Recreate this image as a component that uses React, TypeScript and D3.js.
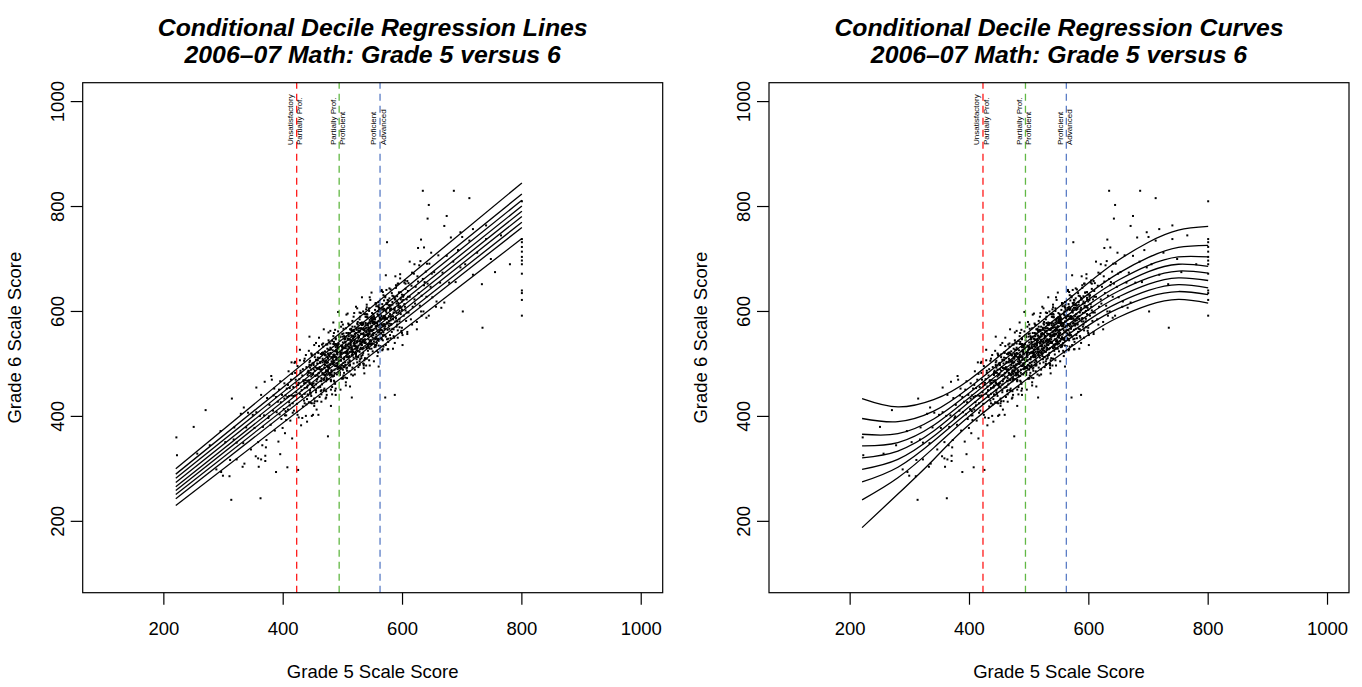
import React from 'react';
import * as d3 from 'd3';

const panelTitles: string[][] = [
  ['Conditional Decile Regression Lines', '2006–07 Math: Grade 5 versus 6'],
  ['Conditional Decile Regression Curves', '2006–07 Math: Grade 5 versus 6'],
];
const xAxisTitle = 'Grade 5 Scale Score';
const yAxisTitle = 'Grade 6 Scale Score';
const xTicks = [200, 400, 600, 800, 1000];
const yTicks = [200, 400, 600, 800, 1000];
const cutScores = [422.6, 493.8, 562.3];
const cutColors = ['#FF1A1A', '#62B845', '#5B7DC6'];
const cutLabels: string[][] = [
  ['Unsatisfactory', 'Partially Prof.'],
  ['Partially Prof.', 'Proficient'],
  ['Proficient', 'Advanced'],
];

// Linear decile regression lines: y at grade-5 score 220 and 800
const lineX = [220, 800];
const lineYStart = [230, 243, 251, 259, 266, 274, 282, 290, 300];
const lineYEnd = [739, 760, 770, 781, 791, 801, 812, 824, 845];

// B-spline decile regression curves read at these grade-5 scores
const curveX = [220, 280, 340, 400, 500, 600, 650, 700, 750, 800];
const curveY: number[][] = [
  [188, 252, 318, 385, 474, 556, 589, 612, 623, 616],
  [241, 283, 340, 401, 491, 574, 606, 628, 638, 632],
  [275, 303, 353, 410, 500, 584, 617, 640, 651, 645],
  [299, 318, 362, 419, 509, 594, 628, 652, 664, 659],
  [321, 334, 372, 428, 518, 604, 639, 664, 677, 673],
  [344, 350, 383, 436, 527, 613, 649, 676, 690, 686],
  [366, 367, 395, 445, 536, 623, 660, 688, 704, 704],
  [396, 390, 410, 455, 546, 634, 673, 703, 722, 726],
  [434, 418, 432, 470, 562, 655, 698, 732, 755, 762],
];

// Student (grade 5, grade 6) scale scores
const scores: [number, number][] = [
  [303,351],[311,317],[318,379],[322,350],[329,405],[333,349],[338,379],[341,407],[346,337],[349,403],
  [352,378],[355,408],[358,351],[361,401],[363,441],[366,380],[368,402],[371,341],[373,435],[375,397],[377,422],[379,384],[381,470],[383,411],[385,453],[386,373],[388,437],[389,408],[391,428],[392,352],[393,451],[394,404],[395,467],[396,427],[397,395],[398,441],[399,378],[384,440],[376,400],[369,466],
  [401,414],[402,463],[403,402],[404,440],[405,393],[406,453],[407,437],[408,413],[409,486],[410,427],[411,454],[412,392],[413,470],[414,440],[415,481],[416,425],[417,456],[418,411],[419,502],[420,440],[421,470],[422,446],[423,424],[424,496],[425,460],[426,398],[427,471],[428,443],[429,487],[430,457],[402,434],[405,402],[408,460],[411,421],[414,503],[417,439],[420,483],[423,409],[426,464],[429,483],[404,410],[410,439],[416,407],[422,463],[428,507],
  [431,450],[432,478],[433,419],[434,467],[435,506],[436,443],[437,464],[438,401],[439,494],[440,455],[441,479],[442,440],[443,525],[444,465],[445,506],[446,426],[447,489],[448,460],[449,479],[450,403],[451,502],[452,455],[453,518],[454,478],[455,446],[456,492],[457,429],[458,507],[459,476],[460,550],[431,440],[433,490],[435,430],[437,469],[439,423],[441,484],[443,469],[445,446],[447,520],[449,462],[451,490],[453,429],[455,508],[457,479],[459,521],[432,437],[434,469],[436,425],[438,517],[440,456],[442,487],[444,464],[446,443],[448,516],[450,481],[452,420],[454,494],[456,467],[458,512],[460,483],[435,463],[440,433],[445,493],[450,456],[455,540],[436,454],[444,503],[452,434],[458,492],[447,497],
  [461,490],[462,456],[463,519],[464,473],[465,537],[466,483],[467,507],[468,450],[469,493],[470,517],[471,434],[472,507],[473,473],[474,537],[475,488],[476,527],[477,482],[478,499],[479,563],[480,468],[481,513],[482,456],[483,526],[484,503],[485,542],[486,483],[487,514],[488,441],[489,527],[490,501],
  [461,511],[463,448],[465,490],[467,533],[469,471],[471,505],[473,441],[475,520],[477,492],[479,539],[481,488],[483,513],[485,477],[487,565],[489,509],
  [462,504],[464,442],[466,503],[468,480],[470,524],[472,467],[474,497],[476,545],[478,482],[480,528],[482,442],[484,517],[486,503],[488,547],[490,480],
  [463,489],[466,510],[469,453],[472,537],[475,485],[478,514],[481,480],[484,579],[487,462],[490,521],
  [464,467],[468,520],[472,486],[476,517],[480,451],[484,506],[488,549],
  [465,461],[470,504],[475,503],[480,467],[485,559],[470,478],[478,527],[482,500],[486,466],[474,513],[467,522],[479,480],[489,513],
  [491,498],[492,534],[493,508],[494,553],[495,483],[496,521],[497,571],[498,497],[499,532],[500,473],[501,521],[502,553],[503,513],[504,541],[505,459],[506,552],[507,524],[508,537],[509,503],[510,575],[511,515],[512,566],[513,535],[514,480],[515,554],[516,528],[517,548],[518,501],[519,597],[520,521],
  [491,518],[493,483],[495,551],[497,513],[499,534],[501,478],[503,547],[505,523],[507,513],[509,577],[511,507],[513,536],[515,564],[517,478],[519,551],
  [492,501],[494,555],[496,494],[498,522],[500,541],[502,483],[504,534],[506,594],[508,521],[510,546],[512,499],[514,567],[516,519],[518,539],[520,489],
  [493,538],[496,507],[499,533],[502,494],[505,568],[508,527],[511,486],[514,554],[517,523],[520,546],
  [494,551],[498,498],[502,530],[506,491],[510,553],[514,528],[518,590],
  [495,492],[500,531],[505,465],[510,558],[515,531],[520,557],
  [497,521],[503,494],[509,559],[515,523],[501,567],[507,487],[513,546],[519,539],[492,494],[498,580],[504,498],[510,539],[516,571],
  [500,472],[504,542],[508,518],[512,558],
  [521,553],[522,515],[523,542],[524,577],[525,531],[526,494],[527,568],[528,544],[529,528],[530,597],[531,515],[532,557],[533,544],[534,578],[535,492],[536,565],[537,595],[538,541],[539,560],[540,530],[541,589],[542,555],[543,518],[544,579],[545,627],[546,543],[547,570],[548,529],[549,588],[550,558],
  [521,523],[523,569],[525,513],[527,551],[529,590],[531,541],[533,566],[535,500],[537,554],[539,590],[541,537],[543,570],[545,497],[547,587],[549,563],
  [522,559],[524,503],[526,548],[528,598],[530,531],[532,575],[534,546],[536,507],[538,568],[540,595],[542,534],[544,562],[546,622],[548,553],[550,584],
  [523,509],[526,552],[529,578],[532,541],[535,497],[538,574],[541,556],[544,606],[547,545],[550,578],
  [524,544],[528,505],[532,574],[536,540],[540,613],[544,538],[548,572],
  [525,575],[530,537],[535,566],[540,510],[545,584],[550,539],
  [521,521],[528,585],[535,553],[542,525],[549,584],
  [527,553],[533,528],[539,604],[545,557],[531,576],[537,511],[543,565],[549,555],[522,609],[534,521],[546,577],
  [526,535],[530,568],[534,501],[538,590],[542,558],[546,545],[550,579],[529,509],[536,595],[543,564],[547,538],
  [551,555],[552,591],[553,532],[554,578],[555,616],[556,549],[557,572],[558,515],[559,593],[560,608],[561,561],[562,581],[563,534],[564,592],[565,639],[566,574],[567,609],[568,554],[569,590],[570,567],[571,627],[572,536],[573,604],[574,587],[575,565],[576,621],[577,582],[578,644],[579,555],[580,606],
  [551,587],[553,548],[555,572],[557,525],[559,610],[561,570],[563,593],[565,548],[567,637],[569,591],[571,572],[573,616],[575,528],[577,591],[579,612],
  [552,543],[554,579],[556,610],[558,564],[560,535],[562,600],[564,584],[566,564],[568,631],[570,555],[572,601],[574,586],[576,542],[578,625],[580,583],
  [553,576],[556,536],[559,600],[562,573],[565,641],[568,560],[571,589],[574,547],[577,612],[580,587],
  [554,603],[558,546],[562,589],[566,526],[570,586],[574,614],[578,577],
  [555,551],[560,618],[565,547],[570,591],[575,607],[580,549],
  [557,572],[563,550],[569,621],[575,577],[561,591],[567,545],[573,641],
  [581,605],[582,561],[583,630],[584,586],[585,598],[586,550],[587,623],[588,581],[589,650],[590,597],[591,619],[592,564],[593,611],[594,636],[595,581],[596,671],[597,595],[598,607],[599,632],[600,555],[601,622],[602,592],[603,655],[604,609],[605,643],[606,582],[607,623],[608,557],[609,639],[610,654],
  [581,576],[583,618],[585,553],[587,602],[589,645],[591,575],[593,616],[595,601],[597,637],[599,559],[601,628],[603,614],[605,653],[607,598],[609,628],
  [584,585],[587,626],[590,571],[593,653],[596,610],[599,569],[602,631],[605,602],[608,658],[610,598],
  [612,628],[614,585],[615,649],[617,609],[619,672],[620,623],[622,647],[624,580],[625,667],[627,635],[629,611],[630,696],[632,630],[634,662],[635,600],[637,656],[639,676],[640,628],[642,653],[644,592],[645,691],[647,647],[649,672],[650,627],[616,674],[621,615],[626,657],[631,600],[636,650],[641,691],
  [653,675],[657,619],[660,707],[663,655],[667,674],[670,617],[674,706],[678,655],[681,741],[685,695],[689,656],[693,717],[697,684],[700,742],[665,607],
  [705,690],[712,735],[718,670],[725,712],[733,652],[740,738],[748,700],[755,675],[765,745],[780,690],
  [634,830],[686,830],[644,803],[712,816],[674,782],[642,777],[670,763],[697,751],[631,737],[574,732],[626,721],[740,764],[718,757],[734,569],[701,600],[587,441],[475,362],
  [221,360],[222,326],[250,380],[256,329],[277,345],[295,372],[299,287],[317,356],[334,417],[355,455],[380,477],[370,325],[370,315],[335,310],[296,294],
  [270,412],[314,434],[313,241],[362,244],[310,286],[332,304],[359,304],[388,294],[407,303],[425,298],[354,324],[358,320],[363,318],[395,328],[288,299],[322,318],[365,345],[372,355],[415,358],[448,401],[459,403],[515,436],[571,436],[403,368],[430,383],
  [800,810],[800,738],[800,732],[800,723],[800,714],[800,704],[800,697],[800,690],[800,672],[800,640],[800,635],[800,622],[800,592],
  [440,468],[441,442],[442,484],[443,427],[444,498],[445,462],[446,483],[447,439],[448,518],[449,459],[450,481],[451,498],[452,425],[453,513],[454,477],[455,461],[456,507],[457,471],[458,522],[459,455],
  [460,491],[461,437],[462,502],[463,486],[464,450],[465,518],[466,482],[467,539],[468,469],[469,505],[470,479],[471,517],[472,436],[473,502],[474,529],[475,493],[476,471],[477,541],[478,483],[479,521],
  [480,520],[481,484],[482,544],[483,476],[484,500],[485,538],[486,513],[487,449],[488,532],[489,496],[490,524],[491,490],[492,562],[493,507],[494,545],[495,479],[496,517],[497,535],[498,472],[499,528],
  [500,489],[501,558],[502,509],[503,547],[504,503],[505,521],[506,559],[507,473],[508,548],[509,533],[510,513],[511,574],[512,497],[513,543],[514,524],[515,562],[516,493],[517,552],[518,512],[519,540],
  [520,571],[521,535],[522,519],[523,565],[524,529],[525,580],[526,513],[527,552],[528,498],[529,563],[530,547],[531,511],[532,579],[533,543],[534,600],[535,530],[536,566],[537,540],[538,578],[539,497],
  [540,562],[541,589],[542,553],[543,531],[544,601],[545,543],[546,581],[547,565],[548,539],[549,581],[550,524],[551,595],[552,559],[553,580],[554,536],[555,615],[556,556],[557,578],[558,595],[559,522],
  [560,544],[561,613],[562,564],[563,602],[564,558],[565,576],[566,614],[567,528],[568,603],[569,588],[570,568],[571,629],[572,552],[573,598],[574,579],[575,617],[576,548],[577,607],[578,567],[579,595],
  [580,611],[581,575],[582,635],[583,567],[584,591],[585,629],[586,604],[587,540],[588,623],[589,587],[590,615],[591,581],[592,653],[593,598],[594,636],[595,570],[596,608],[597,626],[598,563],[599,619],
  [441,459],[443,483],[445,450],[447,476],[449,501],[451,463],[453,487],[455,450],[457,501],[459,482],[461,494],[463,468],[465,521],[467,480],[469,493],[471,516],[473,470],[475,510],[477,494],[479,531],
  [481,487],[483,509],[485,468],[487,524],[489,508],[491,536],[493,494],[495,523],[497,506],[499,557],[501,496],[503,522],[505,537],[507,493],[509,548],[511,523],[513,541],[515,517],[517,563],[519,534],
  [521,534],[523,567],[525,525],[527,553],[529,539],[531,568],[533,517],[535,565],[537,554],[539,532],[541,594],[543,547],[545,568],[547,543],[549,589],[551,565],[553,585],[555,533],[557,578],[559,560],
  [561,604],[563,571],[565,591],[567,555],[569,605],[571,586],[573,577],[575,622],[577,573],[579,603],[581,590],[583,613],[585,566],[587,607],[589,587],[591,629],[593,608],[595,586],[597,623],[599,603],
  [420,504],[424,403],[428,527],[432,397],[436,510],[440,390],[444,552],[448,425],[452,536],[456,413],[460,534],[464,428],[468,566],[472,448],[476,560],[480,420],[484,553],[488,453],[492,599],[496,451],
  [500,575],[504,474],[508,596],[512,457],[516,582],[520,480],[524,606],[528,500],[532,627],[536,482],[540,608],[544,507],[548,636],[552,505],[556,615],[560,495],[564,639],[568,533],[572,669],[576,528],
  [580,642],[584,529],[588,667],[592,550],[596,663],[600,536],[604,659],[608,561],[612,695],[616,575],[620,690],[624,566],[628,688],[632,592],[636,722],[640,588],[648,712],[656,609],
  [470,498],[471,484],[472,488],[473,481],[474,496],[475,511],[476,519],[477,516],[478,478],[479,498],[480,470],[481,505],[482,478],[483,512],[484,538],[485,518],[486,489],[487,496],[488,538],[489,535],
  [490,524],[491,532],[492,529],[493,491],[494,511],[495,484],[496,519],[497,492],[498,526],[499,552],[500,531],[501,502],[502,509],[503,551],[504,548],[505,530],[506,516],[507,520],[508,513],[509,528],
  [510,497],[511,532],[512,505],[513,539],[514,565],[515,545],[516,516],[517,523],[518,565],[519,562],[520,543],[521,529],[522,533],[523,526],[524,541],[525,556],[526,564],[527,561],[528,523],[529,543],
  [530,558],[531,529],[532,536],[533,578],[534,575],[535,557],[536,543],[537,547],[538,540],[539,555],[540,569],[541,577],[542,574],[543,536],[544,556],[545,529],[546,564],[547,537],[548,571],[549,597],
  [550,550],[551,565],[552,580],[553,588],[554,585],[555,547],[556,567],[557,540],[558,575],[559,548],[560,581],[561,607],[562,587],[563,558],[564,565],[565,607],[566,604],[567,586],[568,572],[569,576],
];

const FONT = '"Liberation Sans", Arial, Helvetica, sans-serif';
const DOMAIN: [number, number] = [64, 1036];
const BOX_TOP = 82.7;
const BOX_BOTTOM = 592.7;
const BOX_W = 580;

function Panel({ left, index }: { left: number; index: number }) {
  const x = d3.scaleLinear().domain(DOMAIN).range([left, left + BOX_W]);
  const y = d3.scaleLinear().domain(DOMAIN).range([BOX_BOTTOM, BOX_TOP]);
  const cx = left + BOX_W / 2;
  const cy = (BOX_TOP + BOX_BOTTOM) / 2;

  const line = d3
    .line<[number, number]>()
    .x((d) => x(d[0]))
    .y((d) => y(d[1]));
  const curve = d3
    .line<[number, number]>()
    .x((d) => x(d[0]))
    .y((d) => y(d[1]))
    .curve(d3.curveNatural);

  const paths: string[] =
    index === 0
      ? lineYStart.map((s, i) =>
          line([
            [lineX[0], s],
            [lineX[1], lineYEnd[i]],
          ]) as string
        )
      : curveY.map((ys) => curve(curveX.map((cxv, j) => [cxv, ys[j]] as [number, number])) as string);

  return (
    <g>
      <text x={cx} y={36} textAnchor="middle" fontFamily={FONT} fontWeight="bold" fontStyle="italic" fontSize={24.8}>
        {panelTitles[index][0]}
      </text>
      <text x={cx} y={63} textAnchor="middle" fontFamily={FONT} fontWeight="bold" fontStyle="italic" fontSize={24.8}>
        {panelTitles[index][1]}
      </text>

      <g fill="#000">
        {scores.map((d, i) => (
          <rect key={i} x={x(d[0]) - 1} y={y(d[1]) - 1} width={2} height={2} />
        ))}
      </g>

      {cutScores.map((c, i) => (
        <g key={i}>
          <line
            x1={x(c)}
            x2={x(c)}
            y1={BOX_BOTTOM}
            y2={BOX_TOP}
            stroke={cutColors[i]}
            strokeWidth={1.3}
            strokeDasharray="7 5"
          />
          <text
            transform={`translate(${x(c) - 3.6},145) rotate(-90)`}
            fontFamily={FONT}
            fontSize={8}
            textAnchor="start"
          >
            {cutLabels[i][0]}
          </text>
          <text
            transform={`translate(${x(c) + 5.6},145) rotate(-90)`}
            fontFamily={FONT}
            fontSize={8}
            textAnchor="start"
          >
            {cutLabels[i][1]}
          </text>
        </g>
      ))}

      {paths.map((p, i) => (
        <path key={i} d={p} fill="none" stroke="#000" strokeWidth={1.3} />
      ))}

      <rect x={left} y={BOX_TOP} width={BOX_W} height={BOX_BOTTOM - BOX_TOP} fill="none" stroke="#000" strokeWidth={1.2} />

      {xTicks.map((t) => (
        <g key={t}>
          <line x1={x(t)} x2={x(t)} y1={BOX_BOTTOM} y2={BOX_BOTTOM + 12} stroke="#000" strokeWidth={1.2} />
          <text x={x(t)} y={635} textAnchor="middle" fontFamily={FONT} fontSize={18.5}>
            {t}
          </text>
        </g>
      ))}
      <text x={cx} y={678} textAnchor="middle" fontFamily={FONT} fontSize={18.5}>
        {xAxisTitle}
      </text>

      {yTicks.map((t) => (
        <g key={t}>
          <line x1={left} x2={left - 12} y1={y(t)} y2={y(t)} stroke="#000" strokeWidth={1.2} />
          <text
            transform={`translate(${left - 18.7},${y(t)}) rotate(-90)`}
            textAnchor="middle"
            fontFamily={FONT}
            fontSize={18.5}
          >
            {t}
          </text>
        </g>
      ))}
      <text
        transform={`translate(${left - 62},${cy}) rotate(-90)`}
        textAnchor="middle"
        fontFamily={FONT}
        fontSize={18.5}
      >
        {yAxisTitle}
      </text>
    </g>
  );
}

export default function App() {
  return (
    <svg
      width={1362}
      height={687}
      style={{ position: 'absolute', left: 0, top: 0, background: '#fff' }}
      xmlns="http://www.w3.org/2000/svg"
    >
      <rect x={0} y={0} width={1362} height={687} fill="#fff" />
      <Panel left={82.7} index={0} />
      <Panel left={769} index={1} />
    </svg>
  );
}
